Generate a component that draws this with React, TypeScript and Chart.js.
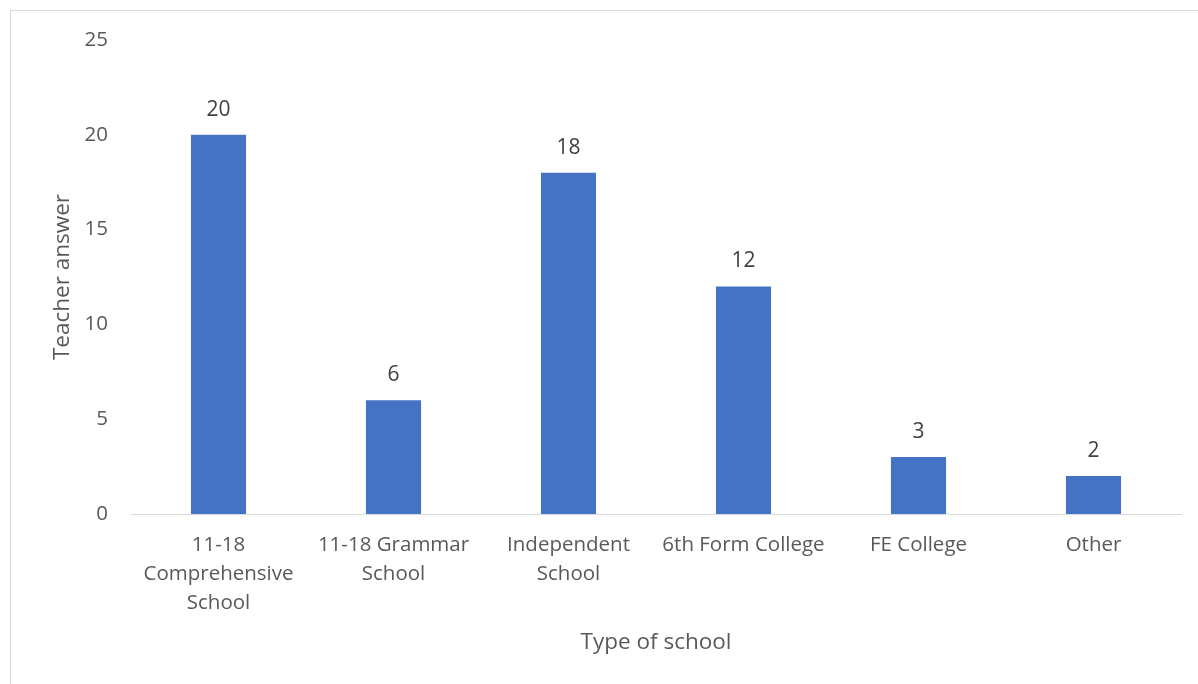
import React, { useEffect, useRef } from "react";
import { Chart, registerables } from "chart.js";

Chart.register(...registerables);

const categories: (string | string[])[] = [
  ["11-18", "Comprehensive", "School"],
  ["11-18 Grammar", "School"],
  ["Independent", "School"],
  "6th Form College",
  "FE College",
  "Other",
];
const teacherAnswers: number[] = [20, 6, 18, 12, 3, 2];
const yTicks: number[] = [0, 5, 10, 15, 20, 25];

const FONT = "'Open Sans', 'Noto Sans', sans-serif";

const frameAndLabels = {
  id: "frameAndLabels",
  beforeDraw(chart: any) {
    const ctx = chart.ctx;
    ctx.save();
    ctx.fillStyle = "#ffffff";
    ctx.fillRect(0, 0, chart.width, chart.height);
    ctx.strokeStyle = "#d9d9d9";
    ctx.lineWidth = 1;
    ctx.strokeRect(10.5, 10.5, chart.width + 20, chart.height + 20);
    ctx.restore();
  },
  afterDatasetsDraw(chart: any) {
    const ctx = chart.ctx;
    const meta = chart.getDatasetMeta(0);
    const data = chart.data.datasets[0].data as number[];
    ctx.save();
    ctx.font = `21px ${FONT}`;
    ctx.fillStyle = "#404040";
    ctx.textAlign = "center";
    ctx.textBaseline = "middle";
    meta.data.forEach((bar: any, i: number) => {
      ctx.fillText(String(data[i]), bar.x, bar.y - 25);
    });
    ctx.restore();
  },
};

export default function App() {
  const canvasRef = useRef<HTMLCanvasElement | null>(null);

  useEffect(() => {
    const canvas = canvasRef.current;
    if (!canvas) return;
    const chart = new Chart(canvas, {
      type: "bar",
      data: {
        labels: categories,
        datasets: [
          {
            label: "Teacher answer",
            data: teacherAnswers,
            backgroundColor: "#4472C4",
            categoryPercentage: 1,
            barPercentage: 0.315,
          },
        ],
      },
      options: {
        responsive: false,
        animation: false,
        devicePixelRatio: 1,
        layout: { padding: { left: 0, top: 40, right: 17, bottom: 0 } },
        plugins: {
          legend: { display: false },
          tooltip: { enabled: false },
        },
        scales: {
          x: {
            grid: { display: false, drawTicks: false },
            border: { display: true, color: "#d9d9d9", width: 1 },
            ticks: {
              color: "#595959",
              font: { family: FONT, size: 20.5, lineHeight: 29 / 20.5 },
              padding: 17,
              maxRotation: 0,
              autoSkip: false,
            },
            title: {
              display: true,
              text: "Type of school",
              color: "#595959",
              font: { family: FONT, size: 22.5 },
              padding: { top: 0, bottom: 27.5 },
            },
            afterFit: (scale: any) => {
              scale.height = 170;
            },
          },
          y: {
            min: 0,
            max: 25,
            grid: { display: false, drawTicks: false },
            border: { display: false },
            afterBuildTicks: (scale: any) => {
              scale.ticks = yTicks.map((v) => ({ value: v }));
            },
            ticks: {
              color: "#595959",
              font: { family: FONT, size: 20.5 },
              padding: 23,
            },
            title: {
              display: true,
              text: "Teacher answer",
              color: "#595959",
              font: { family: FONT, size: 22.5 },
              padding: { top: 49, bottom: 0 },
            },
            afterFit: (scale: any) => {
              scale.width = 131;
            },
          },
        },
      },
      plugins: [frameAndLabels],
    });
    return () => chart.destroy();
  }, []);

  return (
    <div style={{ position: "absolute", left: 0, top: 0, width: 1198, height: 684 }}>
      <canvas ref={canvasRef} width={1198} height={684} style={{ width: 1198, height: 684 }} />
    </div>
  );
}
